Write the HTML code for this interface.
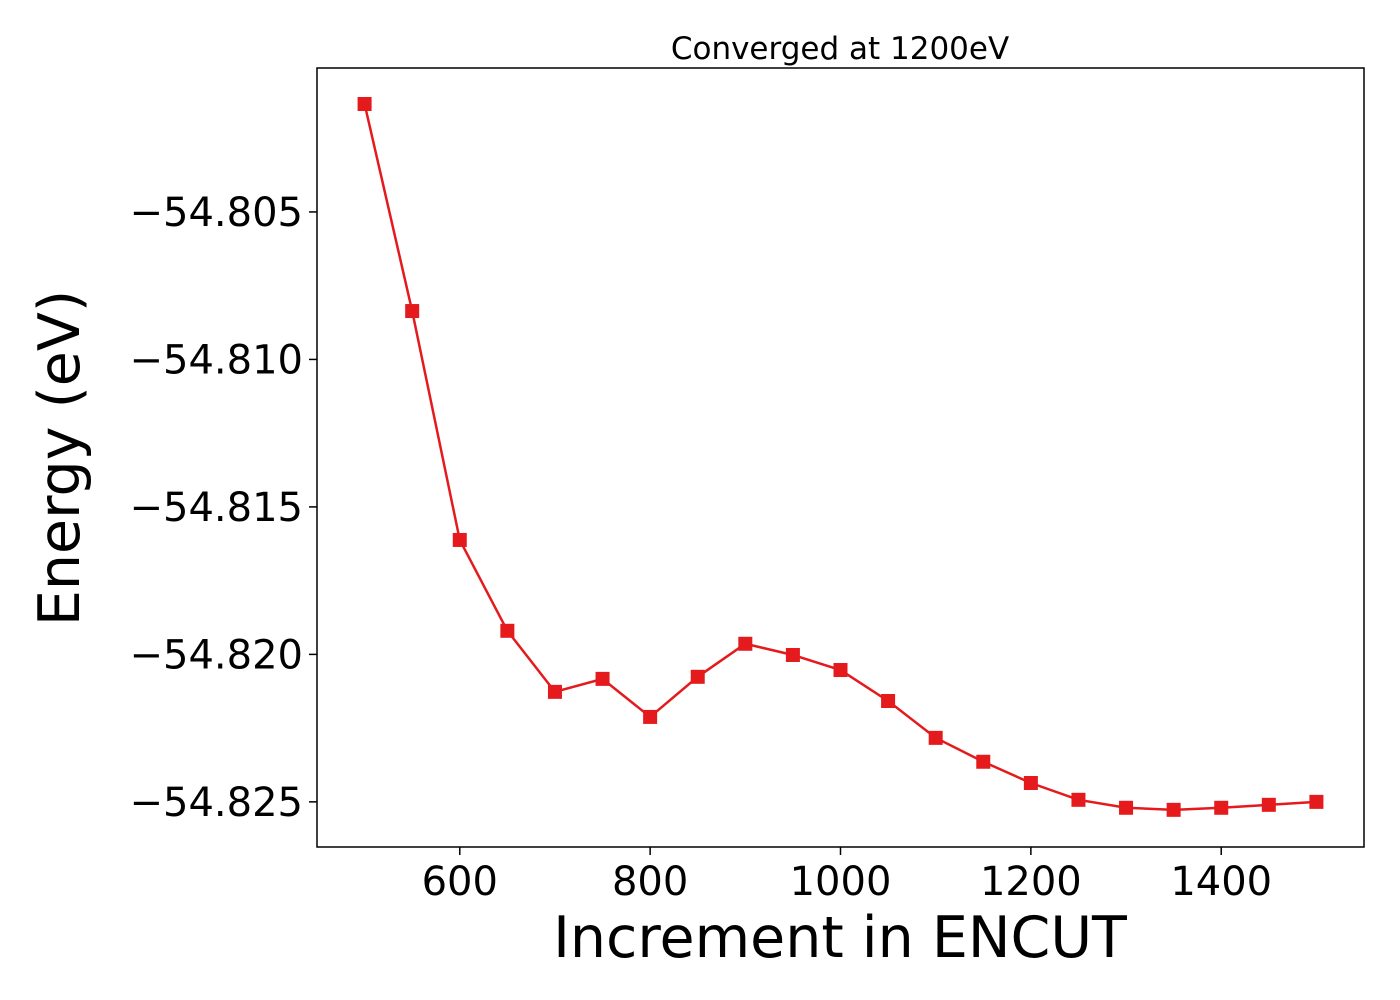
<!DOCTYPE html>
<html><head><meta charset="utf-8"><style>body{margin:0;background:#fff}svg{display:block}text{font-family:"DejaVu Sans","Liberation Sans",sans-serif}</style></head>
<body>
<svg id="chart" width="1400" height="1000" xmlns="http://www.w3.org/2000/svg">
<text x="840" y="59" font-size="31" text-anchor="middle">Converged at 1200eV</text>
<rect x="317" y="68" width="1047" height="779" fill="none" stroke="#000" stroke-width="1.5"/>
<g id="xt"></g><g id="yt"></g>
<text x="840" y="957" font-size="57" text-anchor="middle">Increment in ENCUT</text>
<text transform="translate(79,458) rotate(-90)" font-size="57" text-anchor="middle">Energy (eV)</text>
<g id="series"></g>
</svg>
<script>
const encut=[500,550,600,650,700,750,800,850,900,950,1000,1050,1100,1150,1200,1250,1300,1350,1400,1450,1500];
const energy=[-54.80134,-54.80836,-54.81612,-54.8192,-54.82127,-54.82083,-54.82212,-54.82076,-54.81964,-54.82002,-54.82053,-54.82158,-54.82283,-54.82364,-54.82436,-54.82493,-54.8252,-54.82527,-54.8252,-54.8251,-54.825];
const xTicks=[600,800,1000,1200,1400];
const yTicks=[-54.805,-54.810,-54.815,-54.820,-54.825];
const yTickLabels=["−54.805","−54.810","−54.815","−54.820","−54.825"];
const NS="http://www.w3.org/2000/svg";
const L=317,R=1364,T=68,B=847;
const x0=450,x1=1550,y0=-54.82653,y1=-54.80012;
const sx=v=>L+(v-x0)/(x1-x0)*(R-L);
const sy=v=>B-(v-y0)/(y1-y0)*(B-T);
function mk(t,a,p){const e=document.createElementNS(NS,t);for(const k in a)e.setAttribute(k,a[k]);p.appendChild(e);return e;}
const xt=document.getElementById('xt'),yt=document.getElementById('yt'),s=document.getElementById('series');
xTicks.forEach(v=>{const X=sx(v);
const l=mk('line',{x1:X,x2:X,y1:B,y2:B+8,stroke:'#000','stroke-width':1.5},xt);


const t=mk('text',{x:X,y:B+48,'font-size':40,'text-anchor':'middle'},xt);t.textContent=v;

});
yTicks.forEach((v,i)=>{const Y=sy(v);
const l=mk('line',{x1:L-8,x2:L,y1:Y,y2:Y,stroke:'#000','stroke-width':1.5},yt);


const t=mk('text',{x:L-14,y:Y+14,'font-size':40,'text-anchor':'end'},yt);t.textContent=yTickLabels[i];

});
const pts=encut.map((v,i)=>sx(v)+','+sy(energy[i])).join(' ');
const pl=mk('polyline',{points:pts,fill:'none',stroke:'#e41a1c','stroke-width':2.5},s);


encut.forEach((v,i)=>{const m=mk('rect',{x:sx(v)-7,y:sy(energy[i])-7,width:14,height:14,fill:'#e41a1c'},s);

});
</script>
</body></html>
